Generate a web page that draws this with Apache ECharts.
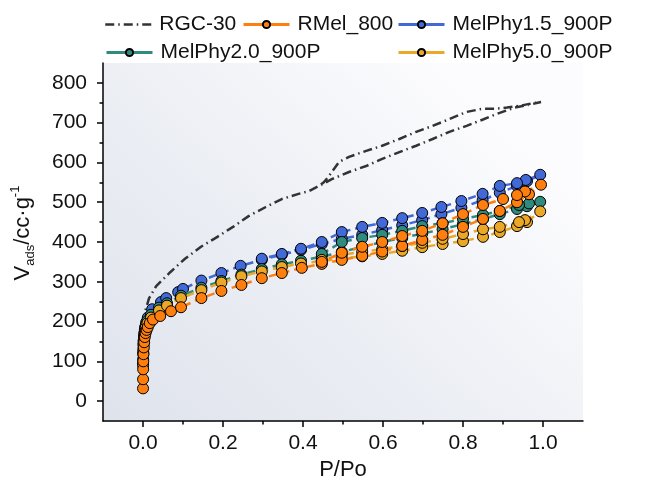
<!DOCTYPE html>
<html><head><meta charset="utf-8">
<script src="https://cdn.jsdelivr.net/npm/echarts@6/dist/echarts.min.js"></script>
<style>html,body{margin:0;padding:0;background:#fff}#c{width:645px;height:492px}</style>
</head><body><div id="c"></div>
<script>
// ---- data ----
const seriesNames = ['RGC-30', 'RMel_800', 'MelPhy1.5_900P', 'MelPhy2.0_900P', 'MelPhy5.0_900P'];
const xTickLabels = [0.0, 0.2, 0.4, 0.6, 0.8, 1.0];
const yTickLabels = [0, 100, 200, 300, 400, 500, 600, 700, 800];

// RGC-30 (adsorption then desorption)
const rgcP = [0.0005, 0.002, 0.006, 0.015, 0.033, 0.068, 0.105, 0.145, 0.186, 0.225, 0.264, 0.307, 0.347, 0.389, 0.415, 0.44, 0.472, 0.515, 0.558, 0.598, 0.641, 0.683, 0.724, 0.766, 0.809, 0.85, 0.89, 0.93, 0.965, 0.995,
  0.97, 0.94, 0.91, 0.88, 0.849, 0.809, 0.766, 0.724, 0.683, 0.641, 0.598, 0.558, 0.515, 0.49, 0.465, 0.452, 0.44];
const rgcV = [150, 195, 228, 258, 289, 324, 358, 388, 413, 438, 465, 488, 508, 521, 528, 541, 558, 576, 591, 609, 626, 642, 659, 677, 692, 708, 724, 738, 745, 752,
  748, 742, 738, 735, 735, 727, 709, 692, 677, 659, 642, 629, 614, 601, 566, 550, 541];

// RMel_800
const rmelP = [0.0001, 0.0002, 0.0004, 0.0007, 0.0012, 0.002, 0.003, 0.0045, 0.0065, 0.009, 0.012, 0.017, 0.025, 0.043, 0.07, 0.095, 0.146, 0.196, 0.246, 0.297, 0.347, 0.397, 0.447, 0.497, 0.548, 0.598, 0.648, 0.698, 0.749, 0.80, 0.85, 0.892, 0.935, 0.965, 0.995,
  0.955, 0.935, 0.90, 0.85, 0.80, 0.749, 0.698, 0.648, 0.598, 0.548, 0.497, 0.447];
const rmelV = [32, 55, 80, 100, 118, 135, 148, 161, 171, 179, 186, 196, 205, 214, 226, 236, 259, 277, 292, 309, 322, 335, 345, 355, 365, 376, 390, 405, 418, 438, 458, 478, 500, 520, 544,
  527, 518, 508, 493, 470, 447, 428, 415, 400, 388, 373, 350];

// MelPhy1.5_900P
const mp15P = [0.0003, 0.0008, 0.0015, 0.003, 0.005, 0.008, 0.012, 0.023, 0.045, 0.058, 0.088, 0.1, 0.146, 0.196, 0.244, 0.297, 0.347, 0.395, 0.447, 0.497, 0.548, 0.598, 0.648, 0.698, 0.746, 0.796, 0.849, 0.892, 0.935, 0.96, 0.993,
  0.957, 0.935, 0.892, 0.849, 0.796, 0.746, 0.698, 0.648, 0.598, 0.548, 0.497, 0.447, 0.395, 0.347, 0.297];
const mp15V = [105, 130, 152, 170, 185, 198, 210, 231, 249, 259, 274, 282, 303, 322, 340, 355, 368, 380, 395, 408, 418, 430, 442, 455, 470, 486, 505, 524, 541, 553, 569,
  556, 548, 541, 521, 503, 488, 473, 460, 448, 438, 425, 400, 383, 370, 358];

// MelPhy2.0_900P
const mp20P = [0.0002, 0.0006, 0.0012, 0.0025, 0.0045, 0.007, 0.011, 0.02, 0.04, 0.06, 0.095, 0.146, 0.196, 0.246, 0.297, 0.347, 0.395, 0.447, 0.497, 0.548, 0.598, 0.648, 0.698, 0.749, 0.80, 0.85, 0.892, 0.935, 0.96, 0.993,
  0.965, 0.94, 0.892, 0.85, 0.80, 0.749, 0.698, 0.648, 0.598, 0.548, 0.497, 0.447];
const mp20V = [95, 123, 145, 163, 178, 191, 202, 217, 235, 246, 265, 285, 302, 318, 332, 344, 353, 363, 375, 388, 400, 410, 421, 432, 445, 458, 470, 483, 490, 501,
  497, 493, 478, 468, 458, 447, 440, 428, 418, 410, 400, 370];

// MelPhy5.0_900P
const mp50P = [0.0002, 0.0006, 0.0012, 0.0025, 0.0045, 0.007, 0.011, 0.02, 0.04, 0.06, 0.095, 0.146, 0.196, 0.246, 0.297, 0.347, 0.395, 0.447, 0.497, 0.548, 0.598, 0.648, 0.698, 0.749, 0.80, 0.85, 0.892, 0.935, 0.96, 0.993,
  0.955, 0.94, 0.892, 0.85, 0.80, 0.749, 0.698, 0.648, 0.598, 0.548, 0.497, 0.447];
const mp50V = [90, 118, 140, 158, 172, 185, 196, 210, 228, 240, 259, 279, 298, 314, 326, 337, 346, 352, 358, 364, 370, 378, 387, 395, 402, 413, 425, 440, 450, 477,
  455, 450, 438, 432, 420, 408, 398, 390, 382, 375, 368, 355];

// ---- chart ----
const zip = (a, b) => a.map((x, i) => [x, b[i]]);
const FONT = 'Liberation Sans, Arial, sans-serif';
const colors = { 'RGC-30': '#333333', 'RMel_800': '#FF7F0E', 'MelPhy1.5_900P': '#4169D8', 'MelPhy2.0_900P': '#2E8B7E', 'MelPhy5.0_900P': '#EBA826' };

function markerSeries(name, p, v, z) {
  return {
    name, type: 'line', data: zip(p, v), z,
    symbol: 'circle', symbolSize: 11,
    lineStyle: { color: colors[name], width: 2.5, type: [8, 5] },
    itemStyle: { color: colors[name], borderColor: '#000', borderWidth: 1 },
    emphasis: { disabled: true }
  };
}

const GRID = { left: 103, right: 62, top: 63, bottom: 71 };
const W = 645, H = 492;

const chart = echarts.init(document.getElementById('c'), null, { renderer: 'canvas' });
const legendBase = {
  itemWidth: 46, itemHeight: 9, padding: 0, itemGap: 0,
  textStyle: { fontFamily: FONT, fontSize: 21, color: '#111', padding: [0, 0, 0, 3] },
  lineStyle: { type: 'solid', width: 3 }
};
const majorX = xTickLabels;
const minorX = [0.1, 0.3, 0.5, 0.7, 0.9];
const majorY = yTickLabels;
const minorY = [50, 150, 250, 350, 450, 550, 650, 750];
const tickLine = { color: '#000', width: 1.5 };

chart.setOption({
  animation: false,
  backgroundColor: '#fff',
  textStyle: { fontFamily: FONT },
  grid: [Object.assign({ show: false }, GRID), Object.assign({ show: false }, GRID)],
  graphic: [{
    type: 'rect', z: -10, silent: true,
    shape: { x: GRID.left, y: GRID.top, width: W - GRID.left - GRID.right, height: H - GRID.top - GRID.bottom },
    style: {
      fill: new echarts.graphic.LinearGradient(0, 1, 0.7, 0, [
        { offset: 0, color: '#dfe3ec' }, { offset: 0.45, color: '#eaedf3' }, { offset: 1, color: '#fcfcfe' }
      ])
    }
  }],
  legend: [
    Object.assign({}, legendBase, { left: 104, top: 14, data: [{ name: 'RGC-30', lineStyle: { type: [9, 4, 1.5, 4], width: 2.5 }, itemStyle: { opacity: 0 } }] }),
    Object.assign({}, legendBase, { left: 242, top: 14, data: ['RMel_800'] }),
    Object.assign({}, legendBase, { left: 397, top: 14, data: ['MelPhy1.5_900P'] }),
    Object.assign({}, legendBase, { left: 105, top: 42, data: ['MelPhy2.0_900P'] }),
    Object.assign({}, legendBase, { left: 397, top: 42, data: ['MelPhy5.0_900P'] })
  ],
  xAxis: [{
    gridIndex: 0, type: 'value', min: -0.1, max: 1.1, position: 'bottom',
    name: 'P/Po', nameLocation: 'middle', nameGap: 37,
    nameTextStyle: { fontFamily: FONT, fontSize: 22, color: '#111' },
    axisLine: { show: true, onZero: false, lineStyle: tickLine },
    axisTick: { show: true, inside: false, length: 6, lineStyle: tickLine, customValues: majorX },
    axisLabel: { fontFamily: FONT, fontSize: 21, color: '#111', margin: 12, customValues: majorX, formatter: v => v.toFixed(1) },
    splitLine: { show: false }
  }, {
    gridIndex: 1, type: 'value', min: -0.1, max: 1.1, position: 'bottom',
    axisLine: { show: false, onZero: false },
    axisTick: { show: true, inside: false, length: 3.5, lineStyle: tickLine, customValues: minorX },
    axisLabel: { show: false }, splitLine: { show: false }
  }],
  yAxis: [{
    gridIndex: 0, type: 'value', min: -50, max: 850, position: 'left',
    name: '{m|V}{s|ads}{m|/cc·g}{p|-1}', nameLocation: 'middle', nameGap: 66, nameRotate: 90,
    nameTextStyle: {
      fontFamily: FONT, color: '#111', padding: [0, 0, 0, 18],
      rich: {
        m: { fontFamily: FONT, fontSize: 22, color: '#111', lineHeight: 28 },
        s: { fontFamily: FONT, fontSize: 13, color: '#111', lineHeight: 13, verticalAlign: 'bottom' },
        p: { fontFamily: FONT, fontSize: 13, color: '#111', lineHeight: 13, verticalAlign: 'top' }
      }
    },
    axisLine: { show: true, onZero: false, lineStyle: tickLine },
    axisTick: { show: true, inside: false, length: 6, lineStyle: tickLine, customValues: majorY },
    axisLabel: { fontFamily: FONT, fontSize: 21, color: '#111', margin: 16, customValues: majorY },
    splitLine: { show: false }
  }, {
    gridIndex: 1, type: 'value', min: -50, max: 850, position: 'left',
    axisLine: { show: false, onZero: false },
    axisTick: { show: true, inside: false, length: 3.5, lineStyle: tickLine, customValues: minorY },
    axisLabel: { show: false }, splitLine: { show: false }
  }],
  series: [
    {
      name: 'RGC-30', type: 'line', data: zip(rgcP, rgcV), symbol: 'none', z: 2,
      lineStyle: { color: colors['RGC-30'], width: 2.5, type: [9, 4, 1.5, 4] },
      itemStyle: { color: colors['RGC-30'] }, emphasis: { disabled: true }
    },
    markerSeries('MelPhy1.5_900P', mp15P, mp15V, 3),
    markerSeries('MelPhy2.0_900P', mp20P, mp20V, 4),
    markerSeries('MelPhy5.0_900P', mp50P, mp50V, 5),
    markerSeries('RMel_800', rmelP, rmelV, 6)
  ]
});
</script></body></html>
